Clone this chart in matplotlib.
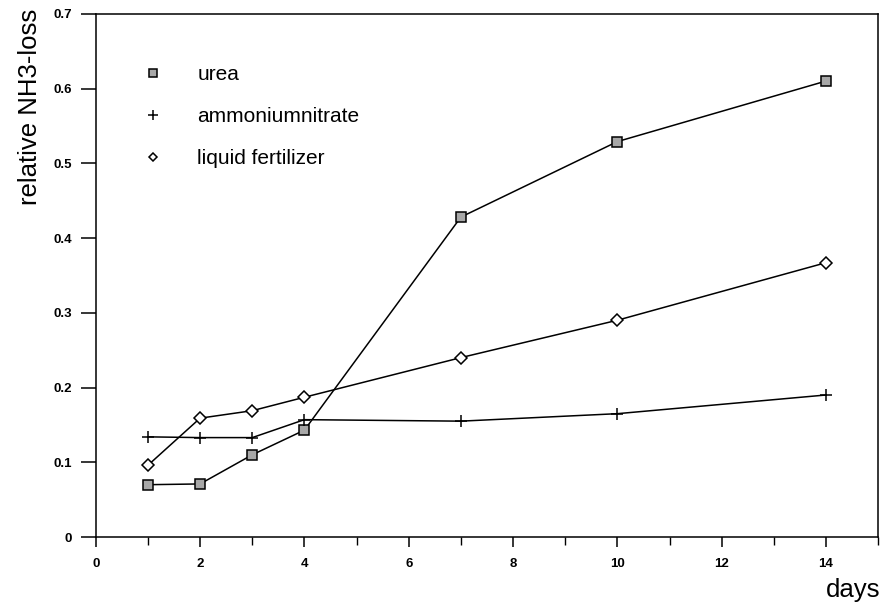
import matplotlib
matplotlib.use('Agg')
import matplotlib.pyplot as plt
from matplotlib.ticker import MultipleLocator

plt.rcParams['font.family'] = ['Liberation Sans', 'DejaVu Sans']

# Relative NH3 loss per fertilizer type over time
days = [1, 2, 3, 4, 7, 10, 14]
urea = [0.070, 0.071, 0.110, 0.143, 0.428, 0.529, 0.610]
ammonium_nitrate = [0.134, 0.133, 0.133, 0.157, 0.155, 0.165, 0.190]
liquid_fertilizer = [0.096, 0.159, 0.169, 0.187, 0.240, 0.290, 0.367]
y_ticks = [0, 0.1, 0.2, 0.3, 0.4, 0.5, 0.6, 0.7]
y_tick_labels = ['0', '0.1', '0.2', '0.3', '0.4', '0.5', '0.6', '0.7']

fig = plt.figure(figsize=(8.87, 6.07), dpi=100)
ax = fig.add_axes([0.108, 0.1153, 0.882, 0.862])

line_kw = dict(color='black', linewidth=1.1)
ax.plot(days, urea, marker='s', markersize=7, markerfacecolor='#a8a8a8',
        markeredgecolor='black', markeredgewidth=1.1, label='urea', **line_kw)
ax.plot(days, ammonium_nitrate, marker='+', markersize=9,
        markeredgewidth=1.1, label='ammoniumnitrate', **line_kw)
ax.plot(days, liquid_fertilizer, marker='D', markersize=6, markerfacecolor='white',
        markeredgecolor='black', markeredgewidth=1.1, label='liquid fertilizer', **line_kw)

ax.set_xlim(0, 15)
ax.set_ylim(0, 0.7)
ax.xaxis.set_major_locator(MultipleLocator(2))
ax.xaxis.set_minor_locator(MultipleLocator(1))
ax.set_yticks(y_ticks)
ax.set_yticklabels(y_tick_labels)

ax.tick_params(axis='y', direction='out', length=11, width=1.1, labelsize=9.5, pad=6)
ax.tick_params(axis='x', which='major', direction='out', length=7, width=1.1, labelsize=9.5, pad=8)
ax.tick_params(axis='x', which='minor', direction='out', length=6, width=1.0)
for lbl in ax.get_xticklabels() + ax.get_yticklabels():
    lbl.set_fontweight('bold')
for s in ax.spines.values():
    s.set_linewidth(1.1)

fig.text(0.034, 0.986, 'relative NH3-loss', fontsize=18.5, rotation=90,
         ha='center', va='top')
fig.text(0.993, 0.008, 'days', fontsize=18.5, ha='right', va='bottom')

leg = ax.legend(loc='upper left', bbox_to_anchor=(0.038, 0.938), frameon=False,
                fontsize=15, handlelength=0.8, handletextpad=1.75, labelspacing=1.1,
                markerscale=0.75)
for h in leg.legend_handles:
    h.set_linestyle('None')

fig.savefig('out.png', dpi=100)
